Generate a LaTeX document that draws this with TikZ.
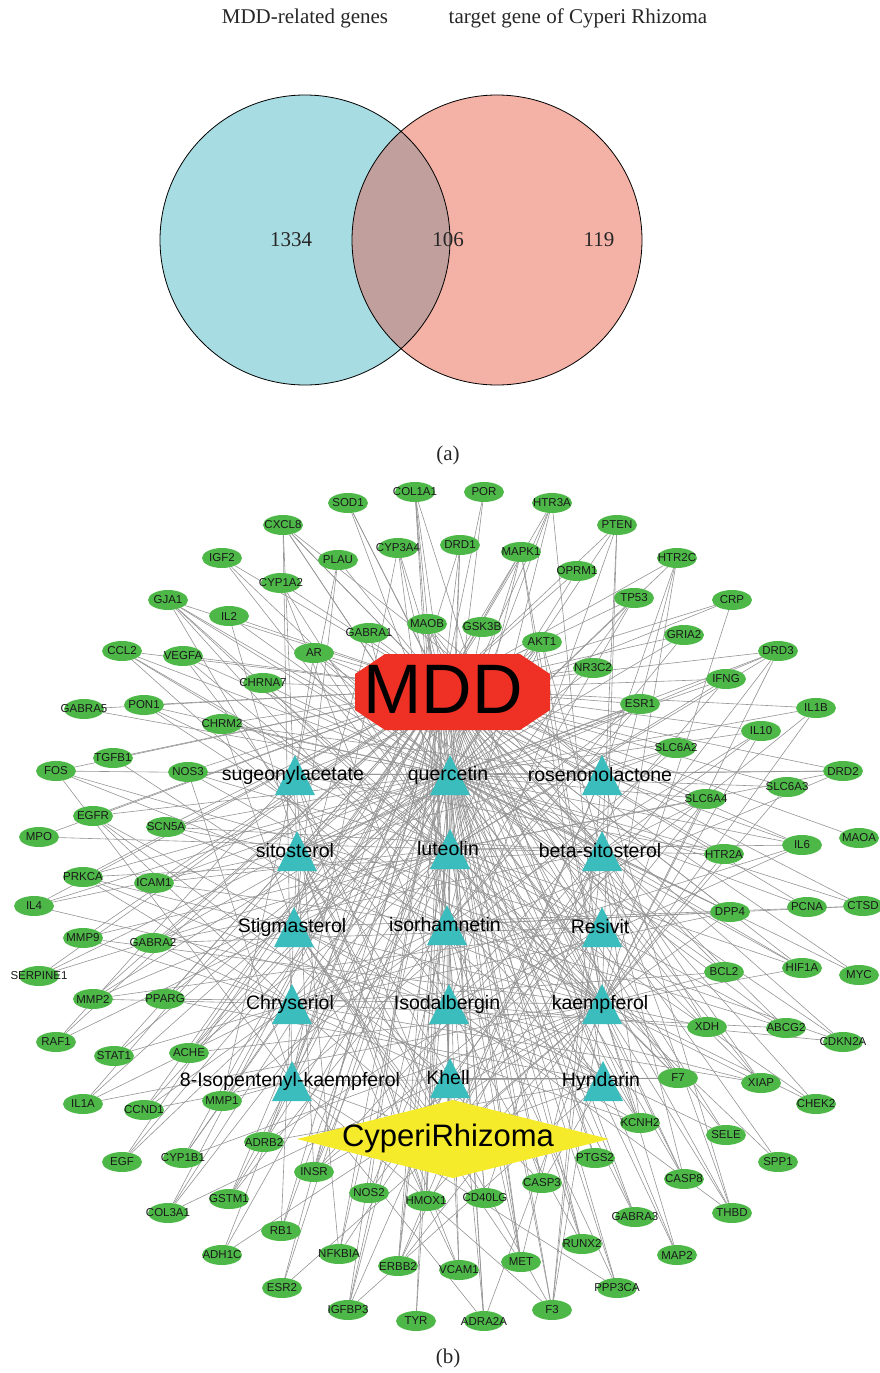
\documentclass[tikz,border=0pt]{standalone}
\usepackage{fontspec}
\setmainfont{Liberation Serif}
\newfontfamily\arialf{Liberation Sans}
\usetikzlibrary{shapes.geometric,backgrounds}
\definecolor{genegreen}{HTML}{4DB848}
\definecolor{compcol}{HTML}{3CBDBD}
\definecolor{mddred}{HTML}{EE3124}
\definecolor{cryellow}{HTML}{F6EB2A}
\definecolor{venncyan}{HTML}{A8DCE3}
\definecolor{vennpink}{HTML}{F4B1A6}
\definecolor{vennmix}{HTML}{C09F9C}
\tikzset{
  gene/.style={ellipse, fill=genegreen, minimum width=40pt, minimum height=20pt, inner sep=0pt,
    text=black!90, font=\arialf\fontsize{11.5}{12}\selectfont},
  complab/.style={inner sep=0pt, text=black, font=\arialf\fontsize{19.5}{21}\selectfont},
  edge/.style={draw=black!42, line width=0.6pt},
  venntext/.style={inner sep=0pt, font=\fontsize{21}{24}\selectfont, text=black!85}
}
\def\genes{SOD1/348/503, COL1A1/415/492, POR/484/492, HTR3A/552/503, CXCL8/283/525,
CYP3A4/398/548, DRD1/460/545, PTEN/617/525, IGF2/222/558, PLAU/338/560, MAPK1/521/552,
HTR2C/677/558, CYP1A2/281/583, OPRM1/577/571, GJA1/168/600, IL2/229/616, TP53/634/598,
CRP/732/600, MAOB/427/624, GSK3B/482/627, GABRA1/369/633, AKT1/542/642, GRIA2/684/635,
CCL2/122/651, VEGFA/183/656, AR/314/653, NR3C2/593/668, DRD3/778/651, CHRNA7/263/683,
IFNG/726/679, GABRA5/84/709, PON1/144/705, CHRM2/222/724, ESR1/640/704, IL1B/816/708,
IL10/761/731, TGFB1/113/758, FOS/56/771, NOS3/188/772, SLC6A2/676/748, DRD2/843/771,
SLC6A3/787/787, SLC6A4/706/799, EGFR/93/816, MPO/39/837, SCN5A/166/827, IL6/802/845,
MAOA/859/838, HTR2A/724/854, PRKCA/83/877, ICAM1/154/883, IL4/34/906, DPP4/730/912,
PCNA/807/907, CTSD/863/906, MMP9/83/938, GABRA2/153/943, SERPINE1/39/976, BCL2/724/972,
HIF1A/802/968, MYC/859/975, MMP2/93/999, PPARG/165/999, RAF1/56/1042, STAT1/114/1056,
ACHE/189/1053, XDH/707/1027, ABCG2/786/1028, CDKN2A/843/1042, IL1A/83/1104, CCND1/144/1110,
MMP1/222/1101, F7/678/1078, XIAP/761/1083, CHEK2/816/1104, ADRB2/264/1142, KCNH2/640/1123,
SELE/726/1135, EGF/122/1162, CYP1B1/183/1158, INSR/314/1172, PTGS2/595/1158, SPP1/778/1162,
CASP8/684/1179, GSTM1/229/1199, NOS2/369/1193, HMOX1/426/1201, CD40LG/485/1198, CASP3/542/1183,
COL3A1/168/1213, THBD/732/1213, GABRA3/635/1217, RB1/281/1231, ADH1C/222/1255, NFKBIA/339/1254,
RUNX2/582/1244, MAP2/677/1255, ERBB2/398/1266, VCAM1/459/1270, MET/521/1262, ESR2/282/1288,
IGFBP3/348/1310, TYR/416/1321, ADRA2A/484/1321, F3/552/1310, PPP3CA/617/1288}
\begin{document}
\begin{tikzpicture}[x=1pt,y=-1pt]
\useasboundingbox (0,0) rectangle (880,1373);
% ---------------- Venn (a)
\fill[venncyan] (305,240) circle[radius=145pt];
\fill[vennpink] (497,240) circle[radius=145pt];
\begin{scope}
  \clip (305,240) circle[radius=145pt];
  \fill[vennmix] (497,240) circle[radius=145pt];
\end{scope}
\draw[line width=0.8pt] (305,240) circle[radius=145pt];
\draw[line width=0.8pt] (497,240) circle[radius=145pt];
\node[venntext] (t1) at (305,18) {MDD-related genes};
\node[venntext] (t2) at (578,18) {target gene of Cyperi Rhizoma};
\node[venntext] (n1) at (291,240) {1334};
\node[venntext] (n2) at (448,240) {106};
\node[venntext] (n3) at (599,240) {119};
\node[venntext] (pa) at (448,455) {(a)};
\node[venntext] (pb) at (448,1358) {(b)};
% ---------------- network (b)
\foreach \g/\x/\y in \genes {
  \node[gene] (\g) at (\x,\y) {\makebox[0pt]{\g}};
}
\foreach \cc/\x/\y/\lab in {suge/295/775/sugeonylacetate, quer/450/775/quercetin,
  rose/602/775/rosenonolactone, sito/297/851/sitosterol, lute/450/849/luteolin,
  beta/602/851/beta-sitosterol, stig/294/927/Stigmasterol, isor/447/925/isorhamnetin,
  resi/602/927/Resivit, chry/292/1004/Chryseriol, isod/449/1004/Isodalbergin,
  kaem/602/1004/kaempferol, isop/292/1081/8-Isopentenyl-kaempferol, khel/450/1078/Khell,
  hynd/603/1081/Hyndarin} {
  \coordinate (\cc) at (\x,\y);
  \fill[compcol] (\x-20,\y+20) -- (\x,\y-20) -- (\x+20,\y+20) -- cycle;
  \node[complab] (\cc-lab) at (\x-2,\y) {\lab};
}
% MDD octagon
\fill[mddred] (355,674) -- (385,654) -- (520,654) -- (550,674) -- (550,710) -- (520,730) -- (385,730) -- (355,710) -- cycle;
\node[inner sep=0pt, font=\arialf\fontsize{70}{70}\selectfont] (MDD) at (443,689) {MDD};
% CyperiRhizoma diamond
\fill[cryellow] (297,1139) -- (453,1100) -- (609,1139) -- (453,1178) -- cycle;
\node[inner sep=0pt, font=\arialf\fontsize{31}{32}\selectfont] (CR) at (448,1138) {CyperiRhizoma};
% ---------------- edges
\begin{scope}[on background layer]
  \foreach \g/\x/\y in \genes { \draw[edge] (MDD) -- (\g); }
  \foreach \cc/\thr/\mm [count=\kk] in {quer/80/37,lute/42/53,kaem/42/71,beta/24/29,sito/14/83,
      stig/14/91,isor/20/47,isod/12/59,chry/14/67,suge/9/13,rose/9/43,resi/9/79,isop/10/97,
      khel/8/31,hynd/9/23} {
    \draw[edge] (CR) -- (\cc);
    \foreach \g/\x/\y [count=\ii] in \genes {
      \pgfmathtruncatemacro\myr{mod(\ii*\mm+\kk*17,100)}
      \ifnum\myr<\thr\relax \draw[edge] (\cc) -- (\g);\fi
    }
  }
\end{scope}
\end{tikzpicture}
\end{document}
